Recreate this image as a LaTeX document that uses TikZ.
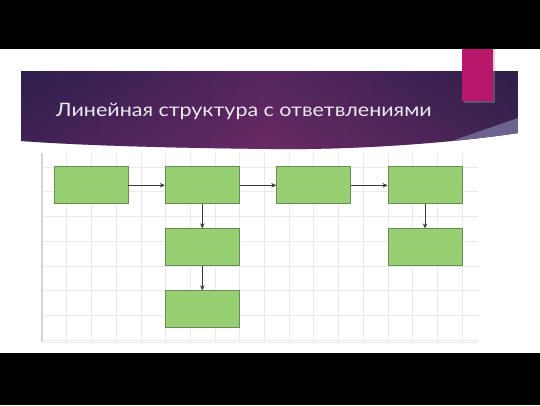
\documentclass[tikz,border=0pt]{standalone}
\usepackage{fontspec}
\setmainfont{Lato}
\usetikzlibrary{arrows.meta}
\definecolor{bannerL}{HTML}{2E1F4E}
\definecolor{bannerM}{HTML}{6A2A66}
\definecolor{bannerR}{HTML}{2C1F49}
\definecolor{wedge}{HTML}{6C6290}
\definecolor{pinkbar}{HTML}{B8176B}
\definecolor{boxfill}{HTML}{98CF72}
\definecolor{boxline}{HTML}{6A8A58}
\definecolor{gridc}{HTML}{EAEAEA}
\definecolor{arrowc}{HTML}{3A3A3A}
\definecolor{titlec}{HTML}{ECE8F0}
\tikzset{
  greenbox/.style={draw=boxline, line width=0.9pt, fill=boxfill, minimum width=74pt, minimum height=37pt, inner sep=0pt},
  conn/.style={draw=arrowc, line width=0.7pt, -{Stealth[length=5pt,width=4.5pt]}},
}
\begin{document}
\begin{tikzpicture}[x=1pt,y=-1pt]
\useasboundingbox (0,0) rectangle (540,405);
\fill[white] (0,0) rectangle (540,405);
% black bars
\fill[black] (0,0) rectangle (540,49);
\fill[black] (0,353) rectangle (540,405);
% grid
\foreach \i in {0,...,17} {
  \draw[gridc, line width=0.6pt] ({42+24.7*\i},153) -- ({42+24.7*\i},342);
}
\foreach \j in {0,...,7} {
  \draw[gridc, line width=0.6pt] (42,{167+24.7*\j}) -- (478,{167+24.7*\j});
}
\draw[gridc!80!gray, line width=1.2pt] (42,153) -- (42,342);
\draw[gridc, line width=0.8pt] (42,342) -- (478,342);
% banner
\begin{scope}
\clip (21,71) -- (518,71) -- (518,133) .. controls (430,146) and (330,150) .. (270,149) .. controls (180,148) and (90,146) .. (21,141) -- cycle;
\shade[left color=bannerL, right color=bannerR, middle color=bannerM] (21,71) rectangle (518,152);
\shade[top color=bannerL, bottom color=bannerM, opacity=0.35] (21,71) rectangle (518,152);
\fill[wedge] (440,145) -- (518,118) -- (518,140) -- cycle;
\end{scope}
% pink bar
\fill[black!40, opacity=0.4] (464,49) rectangle (495,103);
\fill[pinkbar] (462,49) rectangle (493,101);
% title
\node[anchor=base west, text=titlec, inner sep=0pt, font=\fontsize{18.5}{22}\selectfont\addfontfeatures{FakeStretch=1.16}] (title) at (56,116) {Линейная структура с ответвлениями};
% boxes
\node[greenbox] (b1) at (91,185.3) {};
\node[greenbox] (b2) at (202.3,185.3) {};
\node[greenbox] (b3) at (313.7,185.3) {};
\node[greenbox] (b4) at (425,185.3) {};
\node[greenbox] (b5) at (202.3,247.3) {};
\node[greenbox] (b6) at (202.3,309.3) {};
\node[greenbox] (b7) at (425,247.3) {};
% connectors
\draw[conn] (b1) -- (b2);
\draw[conn] (b2) -- (b3);
\draw[conn] (b3) -- (b4);
\draw[conn] (b2) -- (b5);
\draw[conn] (b5) -- (b6);
\draw[conn] (b4) -- (b7);
\end{tikzpicture}
\end{document}
